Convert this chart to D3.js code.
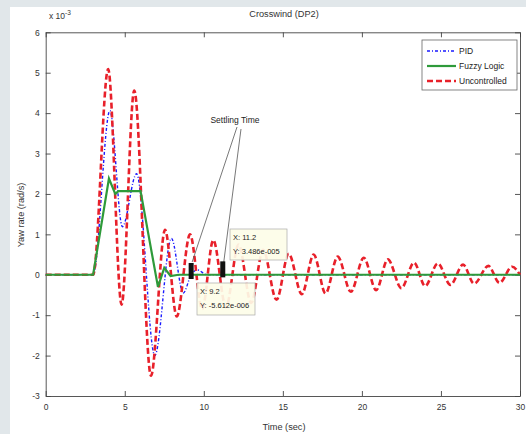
<!DOCTYPE html>
<html><head><meta charset="utf-8">
<script src="https://cdn.jsdelivr.net/npm/d3@7"></script>
<style>
html,body{margin:0;padding:0;background:#e1e7ea;}
svg{display:block;font-family:"Liberation Sans",Arial,sans-serif;}
</style></head>
<body>
<svg id="chart" width="526" height="434"></svg>
<script>
// ---- data (yaw rate in units of 1e-3 rad/s) ----
const xTicks = [0, 5, 10, 15, 20, 25, 30];
const yTicks = [-3, -2, -1, 0, 1, 2, 3, 4, 5, 6];

const uncontrolledT = [0, 3.0, 3.95, 4.8, 5.6, 6.66, 7.55, 8.29, 9.13, 9.9, 10.6, 11.4, 12.2, 13.0, 13.75, 14.6, 15.37, 16.2, 16.95, 17.7, 18.47, 19.3, 20.12, 20.9, 21.64, 22.5, 23.3, 24.0, 24.8, 25.6, 26.4, 27.1, 28.0, 28.7, 29.5, 30];
const uncontrolledY = [0, 0, 5.09, -0.74, 4.56, -2.5, 1.11, -1.03, 1.0, -0.85, 0.86, -0.8, 0.75, -0.7, 0.62, -0.62, 0.52, -0.48, 0.5, -0.46, 0.45, -0.42, 0.42, -0.38, 0.38, -0.33, 0.3, -0.28, 0.28, -0.25, 0.25, -0.22, 0.22, -0.2, 0.2, 0.0];

const pidT = [0, 3.0, 4.06, 4.85, 5.75, 6.9, 7.95, 8.7, 9.2, 9.6, 10.2, 30];
const pidY = [0, 0, 4.06, 1.19, 2.5, -2.0, 0.9, -0.45, 0, 0.12, 0, 0];

const fuzzyT = [0, 3.0, 4.0, 4.4, 4.6, 6.0, 7.1, 7.5, 7.9, 8.4, 30];
const fuzzyY = [0, 0, 2.38, 2.0, 2.07, 2.07, -0.3, 0.17, -0.03, 0, 0];

const legendNames = ["PID", "Fuzzy Logic", "Uncontrolled"];
const tipX = [9.2, 11.2];
const tipY = [-0.005612, 0.03486];
const tipLabels = [["X: 9.2", "Y: -5.612e-006"], ["X: 11.2", "Y: 3.486e-005"]];

// ---- drawing ----
const svg = d3.select("#chart");
svg.append("rect").attr("x", 10).attr("y", 7).attr("width", 516).attr("height", 427).attr("fill", "#ffffff");

const x = d3.scaleLinear().domain([0, 30]).range([45.7, 520]);
const y = d3.scaleLinear().domain([-3, 6]).range([396, 32.3]);

const axisCol = "#444";
function styleAxis(g) {
  g.selectAll("path").attr("stroke", axisCol).attr("stroke-width", 0.9);
  g.selectAll("line").attr("stroke", axisCol).attr("stroke-width", 0.9);
  g.selectAll("text").attr("fill", "#333").attr("font-size", 8.5);
}
svg.append("g").attr("transform", `translate(0,${y(-3)})`)
  .call(d3.axisBottom(x).tickValues(xTicks).tickSizeInner(-5).tickSizeOuter(0).tickPadding(8).tickFormat(d => String(d)))
  .call(styleAxis);
svg.append("g").attr("transform", `translate(0,${y(6)})`)
  .call(d3.axisTop(x).tickValues(xTicks).tickSizeInner(-5).tickSizeOuter(0).tickFormat(""))
  .call(styleAxis);
svg.append("g").attr("transform", `translate(${x(0)},0)`)
  .call(d3.axisLeft(y).tickValues(yTicks).tickSizeInner(-5).tickSizeOuter(0).tickPadding(6).tickFormat(d => String(d)))
  .call(styleAxis);
svg.append("g").attr("transform", `translate(${x(30)},0)`)
  .call(d3.axisRight(y).tickValues(yTicks).tickSizeInner(-5).tickSizeOuter(0).tickFormat(""))
  .call(styleAxis);

// multiplier
const mult = svg.append("text").attr("x", 49).attr("y", 19).attr("font-size", 8.5).attr("fill", "#333");
mult.append("tspan").text("x 10");
mult.append("tspan").attr("dy", -4).attr("font-size", 6.5).text("-3");

// titles
svg.append("text").attr("x", 284).attr("y", 17).attr("text-anchor", "middle").attr("font-size", 9.2).attr("fill", "#333").text("Crosswind (DP2)");
svg.append("text").attr("x", 284).attr("y", 430).attr("text-anchor", "middle").attr("font-size", 9.2).attr("fill", "#333").text("Time (sec)");
svg.append("text").attr("transform", "translate(24,215) rotate(-90)").attr("text-anchor", "middle").attr("font-size", 9.2).attr("fill", "#333").text("Yaw rate (rad/s)");

const smooth = d3.line().curve(d3.curveMonotoneX).x(d => x(d[0])).y(d => y(d[1]));
const straight = d3.line().x(d => x(d[0])).y(d => y(d[1]));
const zip = (a, b) => a.map((v, i) => [v, b[i]]);

const plot = svg.append("g");
plot.append("path").datum(zip(pidT, pidY)).attr("d", smooth).attr("fill", "none")
  .attr("stroke", "#1a1aff").attr("stroke-width", 1.4).attr("stroke-dasharray", "3,2,1,2");
plot.append("path").datum(zip(uncontrolledT, uncontrolledY)).attr("d", smooth).attr("fill", "none")
  .attr("stroke", "#e8202a").attr("stroke-width", 2.6).attr("stroke-dasharray", "6,3");
plot.append("path").datum(zip(fuzzyT, fuzzyY)).attr("d", straight).attr("fill", "none")
  .attr("stroke", "#2e9a3a").attr("stroke-width", 2.2);

// settling time annotation
svg.append("text").attr("x", 235).attr("y", 123).attr("text-anchor", "middle").attr("font-size", 8.5).attr("fill", "#222").text("Settling Time");
svg.append("line").attr("x1", 237).attr("y1", 127).attr("x2", x(tipX[0]) + 1).attr("y2", 262).attr("stroke", "#555").attr("stroke-width", 0.8);
svg.append("line").attr("x1", 241).attr("y1", 129).attr("x2", x(tipX[1]) + 1).attr("y2", 262).attr("stroke", "#555").attr("stroke-width", 0.8);

// data tips
tipX.forEach((tx, i) => {
  svg.append("rect").attr("x", x(tx) - 2.5).attr("y", y(tipY[i]) - 12).attr("width", 5).attr("height", 16).attr("fill", "#111");
});
const boxes = [{x: 197, y: 283, w: 58, h: 32}, {x: 230, y: 229, w: 57, h: 31}];
boxes.forEach((b, i) => {
  svg.append("rect").attr("x", b.x).attr("y", b.y).attr("width", b.w).attr("height", b.h)
    .attr("fill", "#fdfde8").attr("fill-opacity", 0.92).attr("stroke", "#aaa").attr("stroke-width", 0.7);
  tipLabels[i].forEach((t, j) => {
    svg.append("text").attr("x", b.x + 3).attr("y", b.y + 11 + j * 14).attr("font-size", 7.5).attr("fill", "#222").text(t);
  });
});

// legend
const lg = svg.append("g");
lg.append("rect").attr("x", 422).attr("y", 40).attr("width", 95).attr("height", 50).attr("fill", "#fff").attr("stroke", "#666").attr("stroke-width", 0.8);
const lgStyles = [
  {c: "#1a1aff", w: 1.4, d: "3,2,1,2"},
  {c: "#2e9a3a", w: 2.2, d: null},
  {c: "#e8202a", w: 2.6, d: "6,3"}
];
legendNames.forEach((n, i) => {
  const yy = 51 + i * 15;
  const l = lg.append("line").attr("x1", 427).attr("x2", 456).attr("y1", yy).attr("y2", yy)
    .attr("stroke", lgStyles[i].c).attr("stroke-width", lgStyles[i].w);
  if (lgStyles[i].d) l.attr("stroke-dasharray", lgStyles[i].d);
  lg.append("text").attr("x", 459).attr("y", yy + 3).attr("font-size", 8.5).attr("fill", "#222").text(n);
});
</script>
</body></html>
